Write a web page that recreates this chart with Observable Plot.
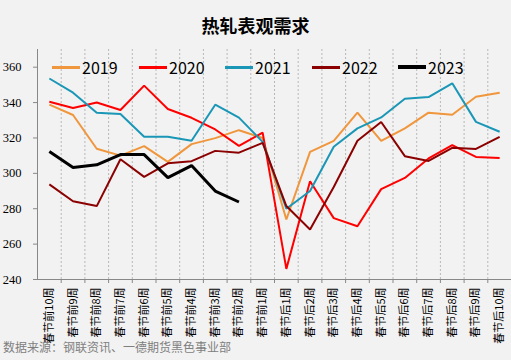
<!DOCTYPE html>
<html><head><meta charset="utf-8">
<script src="https://cdn.jsdelivr.net/npm/d3@7"></script>
<script src="https://cdn.jsdelivr.net/npm/@observablehq/plot@0.6"></script>
<style>
body{margin:0;background:#f2f2f2;}
#wrap{position:relative;width:511px;height:360px;background:#f2f2f2;overflow:hidden;font-family:"Noto Sans CJK SC",sans-serif;}
#title{position:absolute;left:0;top:12px;width:511px;text-align:center;font-size:18px;font-weight:bold;line-height:26px;color:#000;}
#chart{position:absolute;left:0;top:40px;}
#legend{position:absolute;top:56px;left:0;width:511px;height:22px;}
.li{position:absolute;top:0;height:22px;display:flex;align-items:center;font-size:16px;color:#000;line-height:22px;}
.li span.sw{display:inline-block;width:28px;margin-right:2px;}
#caption{position:absolute;left:3px;top:338px;font-size:12px;color:#7f7f7f;line-height:18px;}
</style>
</head><body>
<div id="wrap">
<div id="title">热轧表观需求</div>
<div id="chart"></div>
<div id="legend"></div>
<div id="caption">数据来源：钢联资讯、一德期货黑色事业部</div>
</div>
<script>
const categories = ["春节前10周","春节前9周","春节前8周","春节前7周","春节前6周","春节前5周","春节前4周","春节前3周","春节前2周","春节前1周",
  "春节后1周","春节后2周","春节后3周","春节后4周","春节后5周","春节后6周","春节后7周","春节后8周","春节后9周","春节后10周"];
const years = ["2019","2020","2021","2022","2023"];
const colors = ["#F0963C","#FF0000","#1A97B6","#8B0000","#000000"];
const widths = [2,2,2,2,3];
const v2019 = [338.8,333,313.9,310,315.4,306.5,316.5,319.9,324.4,320,273.9,312.1,318.4,334.3,318.4,325.4,334.3,333.1,343.3,345.6];
const v2020 = [340.5,336.9,340,335.8,349.6,336.4,331.4,324.8,315.5,323,246,295.5,274.7,270.1,291.1,297.4,308.4,315.9,309.3,308.7];
const v2021 = [353.6,345.6,334.3,333.5,320.7,320.7,318.4,338.8,331.5,317.8,280,290,315,325.4,331.6,342.2,343.1,350.9,329.1,323.5];
const v2022 = [293.8,284.2,281.5,308,298,305.7,306.9,312.7,311.7,317.2,281.5,268.3,292.3,318.4,329,309.7,307,314.4,313.8,320.6];
const v2023 = [312.3,303.3,304.8,310.6,310.6,297.6,304.4,290,283.8];
const yTicks = [240,260,280,300,320,340,360];

const series = [v2019,v2020,v2021,v2022,v2023];
const idx = categories.map((_, i) => i);
const bounds = categories.map((_, i) => i + 0.5);

const lineMarks = series.map((vals, s) =>
  Plot.line(vals.map((v, i) => ({i, v, year: years[s]})),
    {x: "i", y: "v", stroke: colors[s], strokeWidth: widths[s], strokeLinejoin: "miter", strokeLinecap: "butt"})
);

const chart = Plot.plot({
  width: 511, height: 300,
  marginTop: 9, marginBottom: 61, marginLeft: 37, marginRight: 0,
  style: {background: "transparent", color: "#000", overflow: "visible"},
  x: {type: "linear", domain: [-0.5, 19.5], label: null},
  y: {domain: [240, 370], label: null},
  marks: [
    Plot.ruleX(bounds, {y1: 240, y2: 370, stroke: "#b8b8b8", strokeDasharray: "2,2", strokeWidth: 1}),
    Plot.axisY({ticks: yTicks, label: null, tickSize: 4, tickPadding: 12, fontSize: 12.5, fontFamily: "Liberation Serif, serif", stroke: "#888", color: "#000"}),
    Plot.axisX({ticks: bounds, label: null, tickSize: 4, tickFormat: () => "", stroke: "#888"}),
    Plot.axisX({ticks: idx, label: null, tickSize: 0, tickPadding: 8, tickRotate: -90, tickFormat: i => categories[i], fontSize: 11, fontFamily: "Noto Sans CJK SC, sans-serif", color: "#000"}),
    Plot.ruleX([-0.5], {stroke: "#888", strokeWidth: 1}),
    Plot.ruleY([240], {stroke: "#888", strokeWidth: 1}),
    ...lineMarks
  ]
});
document.getElementById("chart").appendChild(chart);

const leg = document.getElementById("legend");
const starts = [52, 139, 225, 312, 398];
years.forEach((y, s) => {
  const d = document.createElement("div");
  d.className = "li";
  d.style.left = starts[s] + "px";
  d.innerHTML = `<span class="sw" style="border-top:${s === 4 ? 4 : 3}px solid ${colors[s]}"></span><span>${y}</span>`;
  leg.appendChild(d);
});
</script>
</body></html>
